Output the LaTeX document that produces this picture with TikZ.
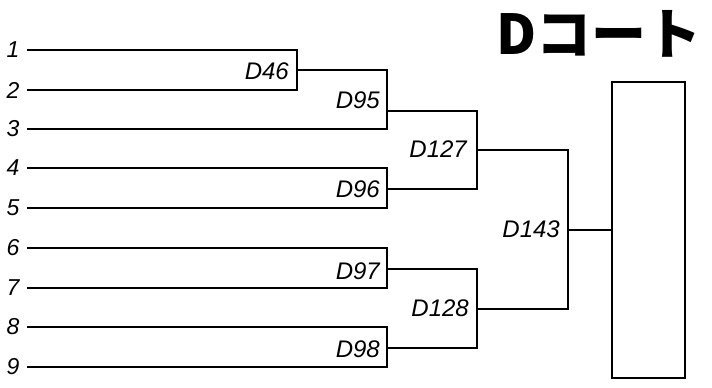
\documentclass[tikz,border=0pt]{standalone}
\usepackage{fontspec}
\setmainfont{Liberation Sans}
\newfontfamily\cjk{Noto Sans CJK JP}
\begin{document}
\begin{tikzpicture}[x=1pt,y=-1pt,
  wire/.style={line width=2pt},
  numlbl/.style={font=\itshape\fontsize{23}{23}\selectfont, inner sep=0pt},
  dlbl/.style={font=\itshape\fontsize{24}{24}\selectfont, inner sep=0pt, anchor=east},
  court/.style={draw, line width=2pt, minimum width=73pt, minimum height=296pt, inner sep=0pt}]
\useasboundingbox (0,0) rectangle (712,388);
% inputs
\foreach \i/\y in {1/50,2/90,3/129,4/168,5/208,6/248,7/288,8/327,9/367}{
  \node[numlbl] (n\i) at (13,\y) {\i};
  \coordinate (a\i) at (27,\y);
}
% junction outputs
\coordinate (o46) at (297,70);
\coordinate (o95) at (387,111);
\coordinate (o96) at (387,189);
\coordinate (o97) at (387,269);
\coordinate (o98) at (387,348);
\coordinate (o127) at (477,150);
\coordinate (o128) at (477,309);
\coordinate (o143) at (568,230);
% court box and title
\node[court] (ct) at (648.5,230) {};
\node[font=\cjk\bfseries\fontsize{55}{55}\selectfont, inner sep=0pt] (title) at (599,34) {Dコート};
% brackets
\draw[wire] (a1) -| (o46) |- (a2);
\draw[wire] (o46) -| (o95) |- (a3);
\draw[wire] (a4) -| (o96) |- (a5);
\draw[wire] (o95) -| (o127) |- (o96);
\draw[wire] (a6) -| (o97) |- (a7);
\draw[wire] (a8) -| (o98) |- (a9);
\draw[wire] (o97) -| (o128) |- (o98);
\draw[wire] (o127) -| (o143) |- (o128);
\draw[wire] (o143) -- (ct.west |- o143);
% labels
\node[dlbl] (l46) at (289,71) {D46};
\node[dlbl] (l95) at (380,100) {D95};
\node[dlbl] (l96) at (380,189) {D96};
\node[dlbl] (l97) at (380,271) {D97};
\node[dlbl] (l98) at (380,349) {D98};
\node[dlbl] (l127) at (467,149) {D127};
\node[dlbl] (l128) at (469,308) {D128};
\node[dlbl] (l143) at (560,229) {D143};
\end{tikzpicture}
\end{document}
